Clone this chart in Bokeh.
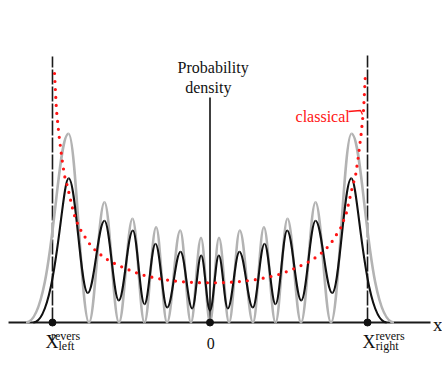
from bokeh.plotting import figure
from bokeh.models import ColumnDataSource, Range1d
from bokeh.core.properties import value
from bokeh.embed import file_html
from bokeh.resources import INLINE

# ---------------- data ----------------
# x in units of the classical turning point (x_revers = +-1), y in arbitrary density units
turn_x = [-1.0, 1.0]
origin_x = [0.0]

# quantum probability density (grey) - extrema, left tail end -> right tail end
gray_x = [-1.168, -0.898, -0.768, -0.670, -0.578, -0.492, -0.416, -0.342, -0.273, -0.189, -0.121, -0.057, 0.0,
          0.057, 0.121, 0.189, 0.273, 0.342, 0.416, 0.492, 0.578, 0.670, 0.768, 0.898, 1.168]
gray_y = [0.0, 1.887, 0.0, 1.203, 0.0, 1.037, 0.0, 0.953, 0.0, 0.920, 0.0, 0.847, 0.0,
          0.847, 0.0, 0.920, 0.0, 0.953, 0.0, 1.037, 0.0, 1.203, 0.0, 1.887, 0.0]

# smoothed density (black) - extrema
black_x = [-1.121, -0.897, -0.776, -0.670, -0.579, -0.490, -0.416, -0.346, -0.272, -0.187, -0.113, -0.056, 0.0,
           0.056, 0.113, 0.187, 0.272, 0.346, 0.416, 0.490, 0.579, 0.670, 0.776, 0.897, 1.121]
black_y = [0.0, 1.443, 0.295, 1.017, 0.220, 0.920, 0.183, 0.787, 0.150, 0.708, 0.140, 0.670, 0.120,
           0.670, 0.140, 0.708, 0.150, 0.787, 0.183, 0.920, 0.220, 1.017, 0.295, 1.443, 0.0]

# classical probability density (red dotted)
classical_x = [-0.987, -0.975, -0.960, -0.941, -0.924, -0.903, -0.886, -0.865, -0.848, -0.833, -0.811, -0.784,
               -0.759, -0.727, -0.684, -0.643, -0.589, -0.547, -0.505, -0.460, -0.420, -0.365, -0.314, -0.262,
               -0.208, -0.156, -0.103, -0.050, 0.0,
               0.050, 0.103, 0.156, 0.208, 0.262, 0.314, 0.365, 0.420, 0.460, 0.505, 0.547, 0.589, 0.643,
               0.684, 0.727, 0.759, 0.784, 0.811, 0.833, 0.848, 0.865, 0.886, 0.903, 0.924, 0.941, 0.960,
               0.975, 0.987]
classical_y = [2.49, 2.13, 1.89, 1.65, 1.47, 1.35, 1.23, 1.09, 1.02, 0.955, 0.90, 0.83,
               0.775, 0.72, 0.665, 0.62, 0.577, 0.547, 0.52, 0.492, 0.472, 0.452, 0.435, 0.422,
               0.412, 0.405, 0.40, 0.398, 0.397,
               0.398, 0.40, 0.405, 0.412, 0.422, 0.435, 0.452, 0.472, 0.492, 0.52, 0.547, 0.577, 0.62,
               0.665, 0.72, 0.775, 0.83, 0.90, 0.955, 1.02, 1.09, 1.23, 1.35, 1.47, 1.65, 1.89,
               2.13, 2.49]

tick_labels = ["0"]

# ---------------- figure ----------------
p = figure(width=442, height=374, x_range=Range1d(-1.330, 1.476), y_range=Range1d(-0.52, 3.22),
           output_backend="svg", toolbar_location=None, x_axis_type=None, y_axis_type=None,
           min_border=0)
p.outline_line_color = None
p.background_fill_color = "white"
p.border_fill_color = "white"

SERIF = value("Liberation Serif")


def bezier_source(xs, ys, tail_left, tail_right, k=0.3642):
    d = dict(x0=[], y0=[], x1=[], y1=[], cx0=[], cy0=[], cx1=[], cy1=[])
    n = len(xs)
    for i in range(n - 1):
        dx = xs[i + 1] - xs[i]
        if i == 0:
            a, b = tail_left
        elif i == n - 2:
            a, b = tail_right
        else:
            a, b = k, 1 - k
        d["x0"].append(xs[i]); d["y0"].append(ys[i])
        d["x1"].append(xs[i + 1]); d["y1"].append(ys[i + 1])
        d["cx0"].append(xs[i] + a * dx); d["cy0"].append(ys[i])
        d["cx1"].append(xs[i] + b * dx); d["cy1"].append(ys[i + 1])
    return ColumnDataSource(d)


# baseline (x axis)
p.segment(x0=[-1.279], y0=[0], x1=[1.40], y1=[0], line_color="#1a1a1a", line_width=2)

# dashed verticals at the turning points
p.segment(x0=turn_x, y0=[0, 0], x1=turn_x, y1=[2.66, 2.67], line_color="#1a1a1a",
          line_width=1.6, line_dash="15 2")
# central vertical line
p.segment(x0=origin_x, y0=[0], x1=origin_x, y1=[2.25], line_color="#111111", line_width=1.6)

# grey quantum density
p.bezier(source=bezier_source(gray_x, gray_y, (0.64, 0.71), (0.29, 0.36)),
         x0="x0", y0="y0", x1="x1", y1="y1", cx0="cx0", cy0="cy0", cx1="cx1", cy1="cy1",
         line_color="#b3b3b3", line_width=2.6)
# black smoothed density
p.bezier(source=bezier_source(black_x, black_y, (0.65, 0.80), (0.20, 0.35)),
         x0="x0", y0="y0", x1="x1", y1="y1", cx0="cx0", cy0="cy0", cx1="cx1", cy1="cy1",
         line_color="#111111", line_width=2.1)
# classical density
p.line(classical_x, classical_y, line_color="#ff1414", line_width=3.2, line_dash="0 8",
       line_cap="round")

# markers on the axis
p.scatter(x=turn_x + origin_x, y=[0, 0, 0], size=7, color="#111111")

# texts
p.text(x=[0.020], y=[2.547], text=["Probability"], text_font=SERIF, text_font_size="16px",
       text_align="center", text_baseline="alphabetic", text_color="#111111")
p.text(x=[-0.011], y=[2.35], text=["density"], text_font=SERIF, text_font_size="16px",
       text_align="center", text_baseline="alphabetic", text_color="#111111")
p.text(x=[0.005], y=[-0.207], text=tick_labels, text_font=SERIF, text_font_size="16px",
       text_align="center", text_baseline="alphabetic", text_color="#111111")

p.text(x=[-1.045, 0.968], y=[-0.197, -0.197], text=["X", "X"], text_font=SERIF,
       text_font_size="18px", text_align="left", text_baseline="alphabetic", text_color="#111111")
p.text(x=[-1.010, 1.050], y=[-0.13, -0.13], text=["revers", "revers"], text_font=SERIF,
       text_font_size="12px", text_align="left", text_baseline="alphabetic", text_color="#111111")
p.text(x=[-0.962, 1.053], y=[-0.235, -0.235], text=["left", "right"], text_font=SERIF,
       text_font_size="12px", text_align="left", text_baseline="alphabetic", text_color="#111111")

p.text(x=[1.416], y=[-0.02], text=["x"], text_font=SERIF, text_font_size="19px",
       text_align="left", text_baseline="alphabetic", text_color="#111111")

p.text(x=[0.543], y=[2.06], text=["classical"], text_font=SERIF, text_font_size="16px",
       text_align="left", text_baseline="alphabetic", text_color="#ff1414")
p.line(x=[0.879, 0.956, 0.968], y=[2.11, 2.12, 2.08], line_color="#ff1414", line_width=1.3)

open("out.html", "w").write(file_html(p, INLINE))
